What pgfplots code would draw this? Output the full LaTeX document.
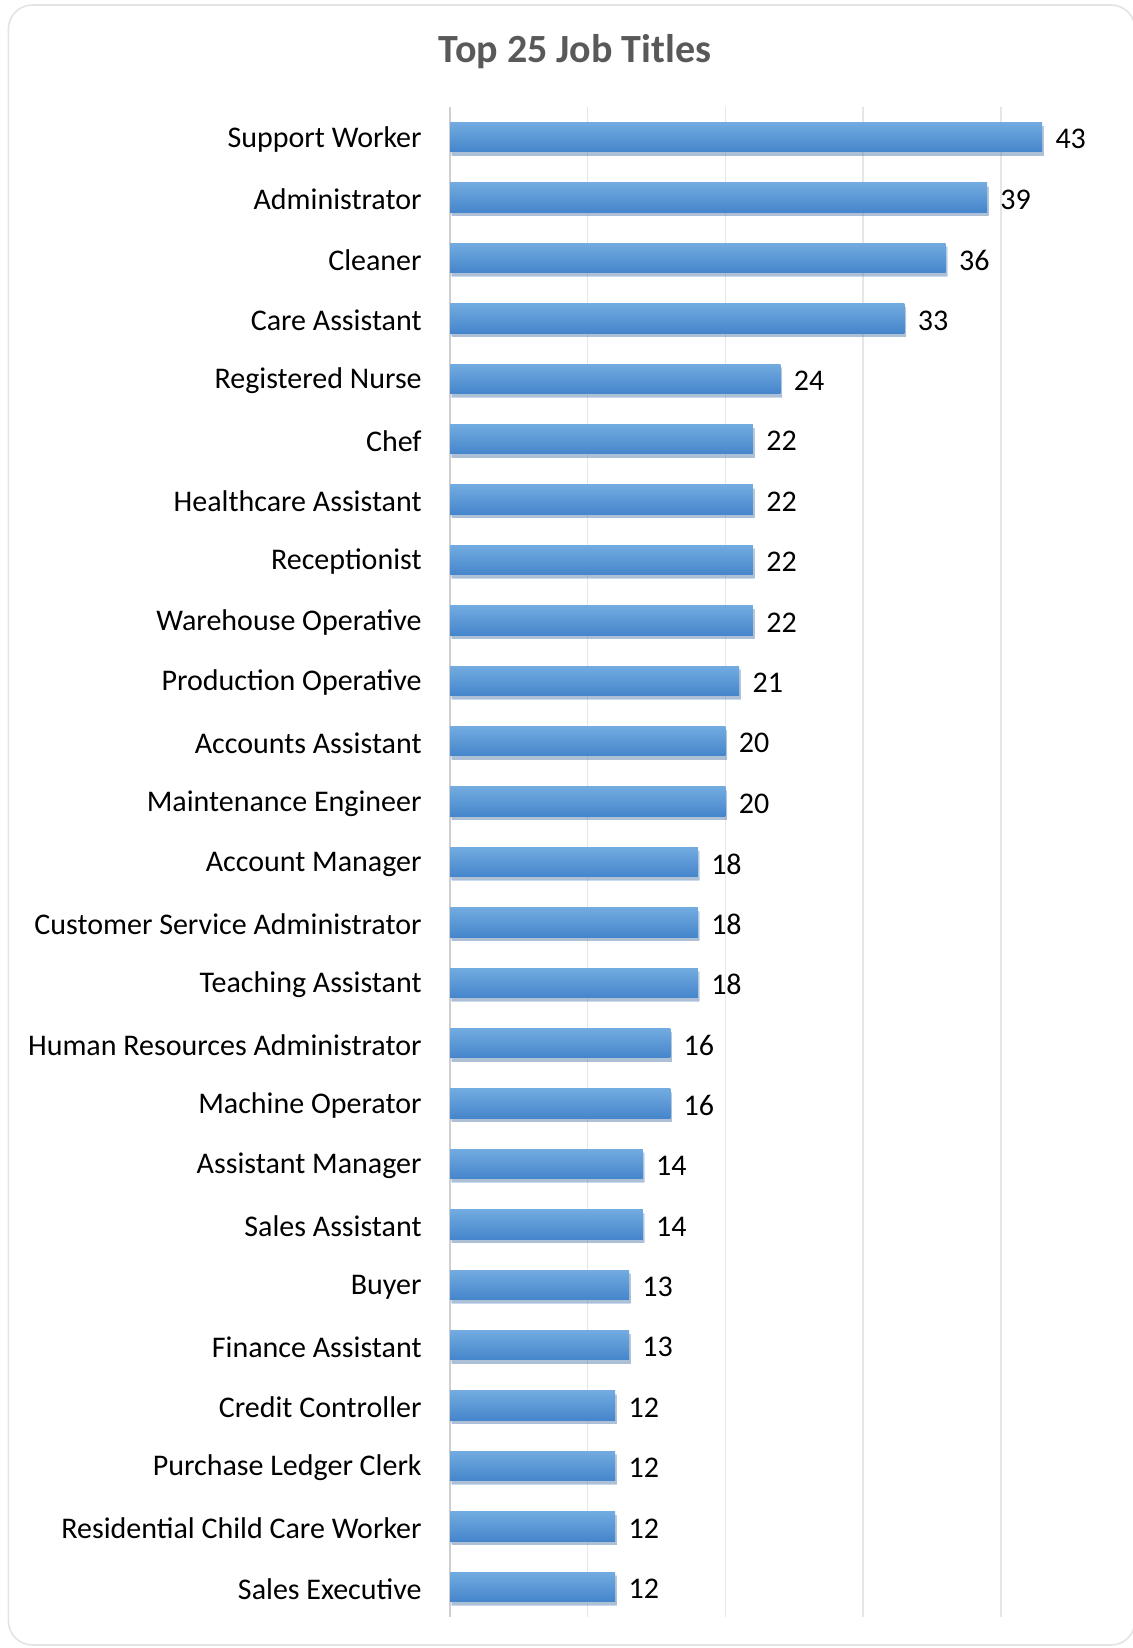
\documentclass[border=0pt]{standalone}
\usepackage{pgfplots}
\pgfplotsset{compat=1.18}
\usepackage{pgfplotstable}
\usepackage{fontspec}
\setmainfont{Carlito}
\usetikzlibrary{shadows}
\definecolor{barTop}{HTML}{72ABE0}
\definecolor{barBot}{HTML}{4585CB}
\definecolor{gridc}{HTML}{E6E6E6}
\definecolor{axisc}{HTML}{CFCFCF}
\definecolor{titlec}{HTML}{595959}
\pgfplotstableread{
idx val
0 43
1 39
2 36
3 33
4 24
5 22
6 22
7 22
8 22
9 21
10 20
11 20
12 18
13 18
14 18
15 16
16 16
17 14
18 14
19 13
20 13
21 12
22 12
23 12
24 12
}\jobdata
\begin{document}
\begin{tikzpicture}[x=1pt,y=1pt]
\path[use as bounding box] (0,0) rectangle (566.5,824);
\draw[rounded corners=12pt, color=gray!22, line width=0.8pt] (4.2,1.5) rectangle (567.5,821.5);
\node[font=\fontsize{20}{24}\selectfont\bfseries, text=titlec] at (287.5,798.4) {Top 25 Job Titles};
\begin{axis}[
  at={(225pt,15.5pt)}, anchor=south west,
  scale only axis, width=341.5pt, height=755pt,
  xbar, bar width=14.7pt, bar shift=0pt,
  xmin=0, xmax=49.6,
  ymin=-0.5, ymax=24.5, y dir=reverse,
  axis line style={draw=none},
  major tick length=0pt,
  xtick={10,20,30,40}, xticklabels={},
  extra x ticks={0}, extra x tick labels={},
  extra x tick style={grid style={draw=axisc, line width=1pt}},
  xmajorgrids, grid style={draw=gridc, line width=0.7pt},
  ytick={0,...,24},
  yticklabels={Support Worker, Administrator, Cleaner, Care Assistant, Registered Nurse, Chef, Healthcare Assistant, Receptionist, Warehouse Operative, Production Operative, Accounts Assistant, Maintenance Engineer, Account Manager, Customer Service Administrator, Teaching Assistant, Human Resources Administrator, Machine Operator, Assistant Manager, Sales Assistant, Buyer, Finance Assistant, Credit Controller, Purchase Ledger Clerk, Residential Child Care Worker, Sales Executive},
  yticklabel style={font=\fontsize{15}{18}\selectfont, anchor=east, inner sep=0pt, xshift=-14pt, yshift=-1pt, text=black},
  /pgf/number format/assume math mode=true,
  nodes near coords,
  nodes near coords style={font=\fontsize{15}{18}\selectfont, anchor=west, inner sep=0pt, xshift=6.5pt, yshift=-1pt, text=black},
  clip=false,
]
\pgfplotsinvokeforeach{0,...,24}{
\addplot[draw=none, top color=barTop, bottom color=barBot,
  drop shadow={opacity=0.3, shadow xshift=0.8pt, shadow yshift=-1.8pt}]
  table[x=val, y=idx, restrict y to domain=#1:#1] {\jobdata};
}
\end{axis}
\end{tikzpicture}
\end{document}
